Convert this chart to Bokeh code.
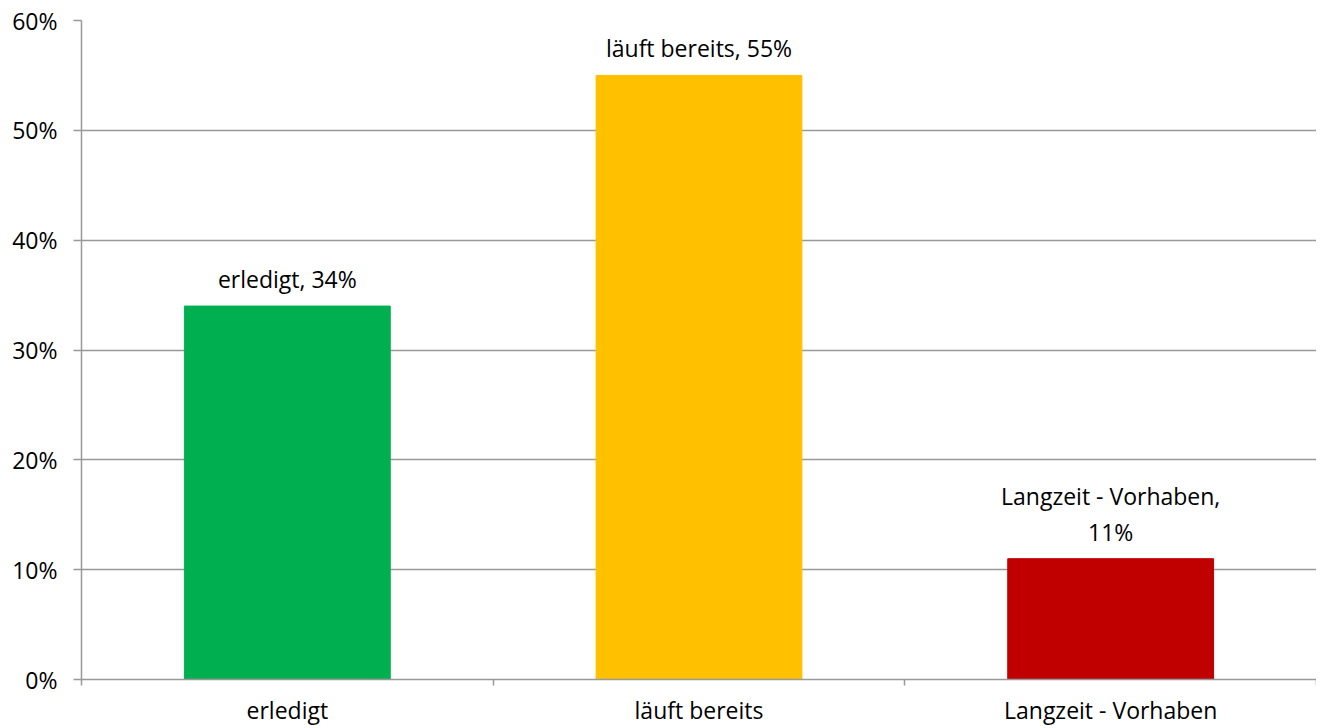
from bokeh.plotting import figure
from bokeh.models import ColumnDataSource, FixedTicker, NumeralTickFormatter, Range1d
from bokeh.core.properties import value
from bokeh.embed import file_html
from bokeh.resources import INLINE

categories = ["erledigt", "läuft bereits", "Langzeit - Vorhaben"]
shares = [0.34, 0.55, 0.11]
bar_labels = ["erledigt, 34%", "läuft bereits, 55%", "Langzeit - Vorhaben,\n11%"]
colors = ["#00B050", "#FFC000", "#C00000"]
y_ticks = [0.0, 0.1, 0.2, 0.3, 0.4, 0.5, 0.6]

FONT = "Open Sans"
FSIZE = "23px"
GRAY = "#999999"

xs = [i + 0.5 for i in range(len(categories))]
src = ColumnDataSource(dict(x=xs, top=shares, label=bar_labels, color=colors))

p = figure(width=1316, height=728, output_backend="svg", toolbar_location=None,
           x_range=Range1d(0, len(categories)), y_range=Range1d(0, 0.6),
           min_border_left=81, min_border_top=20, min_border_bottom=40, min_border_right=0)
p.outline_line_color = None
p.background_fill_color = "white"

p.vbar(x="x", top="top", width=0.5, color="color", source=src)
p.text(x="x", y="top", text="label", source=src, text_align="center", text_baseline="bottom",
       y_offset=-11, text_font=value(FONT), text_font_size=FSIZE, text_color="#000000",
       text_line_height=1.1)

p.yaxis.ticker = FixedTicker(ticks=y_ticks)
p.yaxis.formatter = NumeralTickFormatter(format="0%")
p.yaxis.axis_line_color = GRAY
p.yaxis.axis_line_width = 1.5
p.yaxis.major_tick_line_color = GRAY
p.yaxis.major_tick_line_width = 1.5
p.yaxis.major_tick_out = 8
p.yaxis.major_tick_in = 0
p.yaxis.minor_tick_line_color = None
p.yaxis.major_label_standoff = 16
p.yaxis.major_label_text_font = FONT
p.yaxis.major_label_text_font_size = FSIZE
p.yaxis.major_label_text_color = "#000000"

p.xaxis.ticker = FixedTicker(ticks=xs, minor_ticks=list(range(len(categories) + 1)))
p.xaxis.major_label_overrides = {x: c for x, c in zip(xs, categories)}
p.xaxis.axis_line_color = GRAY
p.xaxis.axis_line_width = 1.5
p.xaxis.major_tick_line_color = None
p.xaxis.major_tick_out = 0
p.xaxis.major_tick_in = 0
p.xaxis.minor_tick_line_color = GRAY
p.xaxis.minor_tick_line_width = 1.5
p.xaxis.minor_tick_out = 6
p.xaxis.minor_tick_in = 0
p.xaxis.major_label_standoff = 8
p.xaxis.major_label_text_font = FONT
p.xaxis.major_label_text_font_size = FSIZE
p.xaxis.major_label_text_color = "#000000"

p.xgrid.grid_line_color = None
p.ygrid.grid_line_color = GRAY
p.ygrid.grid_line_width = 1.5
p.ygrid.ticker = FixedTicker(ticks=y_ticks)

open("out.html", "w").write(file_html(p, INLINE))
